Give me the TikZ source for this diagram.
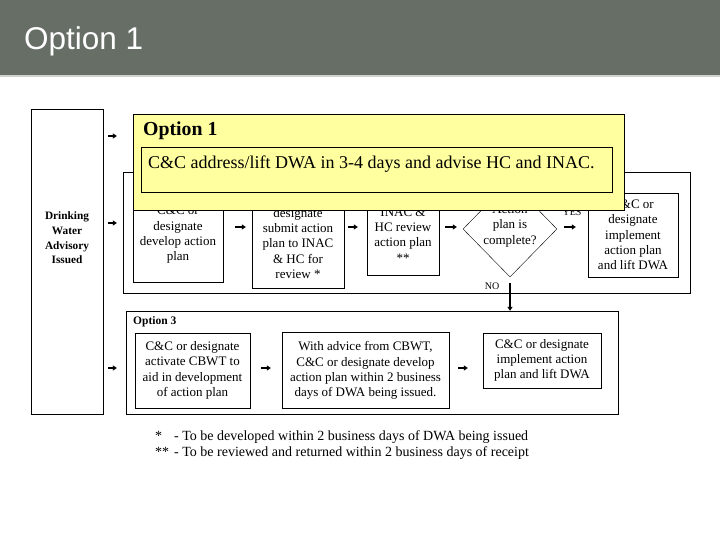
\documentclass[tikz,border=0pt]{standalone}
\usepackage{fontspec}
\setmainfont{Liberation Serif}
\newfontfamily\headfont{Liberation Sans}
\usepackage{tikz}
\usetikzlibrary{shapes.geometric, positioning, arrows.meta}

\definecolor{headgray}{RGB}{102,110,102}
\definecolor{optyellow}{RGB}{255,255,160}
\newcommand{\flowfont}{\fontsize{13}{15.3}\selectfont}

\begin{document}
\begin{tikzpicture}[x=1pt, y=-1pt,
    box/.style={draw, fill=white, inner sep=0pt, align=center, font=\flowfont},
    lbl/.style={inner sep=0pt, font=\fontsize{10}{10}\selectfont},
    arr/.style={-{Triangle[length=4pt, width=5pt]}, line width=1.3pt}]
    \useasboundingbox (0,0) rectangle (720,540);

    % Header band
    \fill[headgray] (0,0) rectangle (720,75);
    \draw[gray!35, line width=1.5pt] (0,76) -- (720,76);
    \node[anchor=west, inner sep=0, text=white, font=\headfont\fontsize{31.5}{31.5}\selectfont] (title) at (24,41) {Option 1};

    % Rows for the small arrows
    \coordinate (r1) at (0,136);
    \coordinate (r2) at (0,223);
    \coordinate (row2) at (0,227);
    \coordinate (r3) at (0,368);

    % Advisory box
    \node[draw, fill=white, minimum width=72pt, minimum height=305pt, inner sep=0] (dwa) at (67,261.5) {};
    \node[align=center, inner sep=0, font=\bfseries\fontsize{11.3}{14.7}\selectfont] (dwatext) at (67,238) {Drinking\\Water\\Advisory\\Issued};

    % Option 2
    \node[draw, fill=white, minimum width=567pt, minimum height=121pt, inner sep=0] (opt2) at (406.5,232.5) {};
    \node[box, minimum width=90pt, minimum height=94pt] (dev) at (178,235) {C\&C or\\designate\\develop action\\plan};
    \node[box, minimum width=92pt, minimum height=104pt] (submit) at (298,236) {C\&C or\\designate\\submit action\\plan to INAC\\\& HC for\\review *};
    \node[box, minimum width=72pt, minimum height=80pt] (review) at (403,235) {INAC \&\\HC review\\action plan\\{}**};
    \node[draw, fill=white, diamond, minimum width=94pt, minimum height=96pt, inner sep=0] (check) at (510,229) {};
    \node[align=center, inner sep=0, font=\flowfont] (checktext) at (510,226) {Action\\plan is\\complete?};
    \node[box, minimum width=90pt, minimum height=84pt] (lift) at (633,235) {C\&C or\\designate\\implement\\action plan\\and lift DWA};
    \node[lbl] (yes) at (572,212) {YES};
    \node[lbl] (no) at (492,286) {NO};

    % Arrows in option 2
    \draw[arr, shorten <=12pt, shorten >=6pt] (dev.east |- row2) -- (submit.west |- row2);
    \draw[arr, shorten <=4pt, shorten >=9pt] (submit.east |- row2) -- (review.west |- row2);
    \draw[arr, shorten <=6pt, shorten >=6pt] (review.east |- row2) -- (check.west |- row2);
    \draw[arr, shorten <=7pt, shorten >=12pt] (check.east |- row2) -- (lift.west |- row2);

    % Option 3
    \node[draw, fill=white, minimum width=492pt, minimum height=103pt, inner sep=0] (opt3) at (372,362.5) {};
    \node[anchor=west, inner sep=0, font=\bfseries\fontsize{11.5}{11.5}\selectfont] (opt3title) at (133,322) {Option 3};
    \node[box, minimum width=115pt, minimum height=75pt] (activate) at (192.5,370.5) {C\&C or designate\\activate CBWT to\\aid in development\\of action plan};
    \node[box, minimum width=167pt, minimum height=76pt] (advice) at (365.5,370.5) {With advice from CBWT,\\C\&C or designate develop\\action plan within 2 business\\days of DWA being issued.};
    \node[box, minimum width=118pt, minimum height=55pt] (implement) at (542,360.5) {C\&C or designate\\implement action\\plan and lift DWA};
    \draw[arr, shorten <=11pt, shorten >=11pt] (activate.east |- r3) -- (advice.west |- r3);
    \draw[arr, shorten <=9pt, shorten >=15pt] (advice.east |- r3) -- (implement.west |- r3);
    \draw[arr, shorten <=6pt] (check.south) -- (opt3.north -| check.south);

    % Option 1
    \node[draw, fill=optyellow, minimum width=491pt, minimum height=96pt, inner sep=0] (opt1) at (378.5,162) {};
    \node[anchor=west, inner sep=0, font=\bfseries\fontsize{19.8}{19.8}\selectfont] (opt1title) at (143,131) {Option 1};
    \node[draw, minimum width=471pt, minimum height=45pt, inner sep=0] (opt1inner) at (376.5,169.5) {};
    \node[anchor=west, inner sep=0, font=\fontsize{18}{18}\selectfont] (opt1text) at (148,164) {C\&C address/lift DWA in 3-4 days and advise HC and INAC.};

    % Arrows from the advisory
    \draw[arr, shorten <=5pt, shorten >=16pt] (dwa.east |- r1) -- (opt1.west |- r1);
    \draw[arr, shorten <=5pt, shorten >=6pt] (dwa.east |- r2) -- (opt2.west |- r2);
    \draw[arr, shorten <=5pt, shorten >=9pt] (dwa.east |- r3) -- (opt3.west |- r3);

    % Notes
    \node[anchor=west, inner sep=0, font=\fontsize{14}{16}\selectfont] (notes) at (155,445)
        {\begin{tabular}{@{}l@{\hspace{5pt}}l@{}}*&- To be developed within 2 business days of DWA being issued\\{}**&- To be reviewed and returned within 2 business days of receipt\end{tabular}};
\end{tikzpicture}
\end{document}
